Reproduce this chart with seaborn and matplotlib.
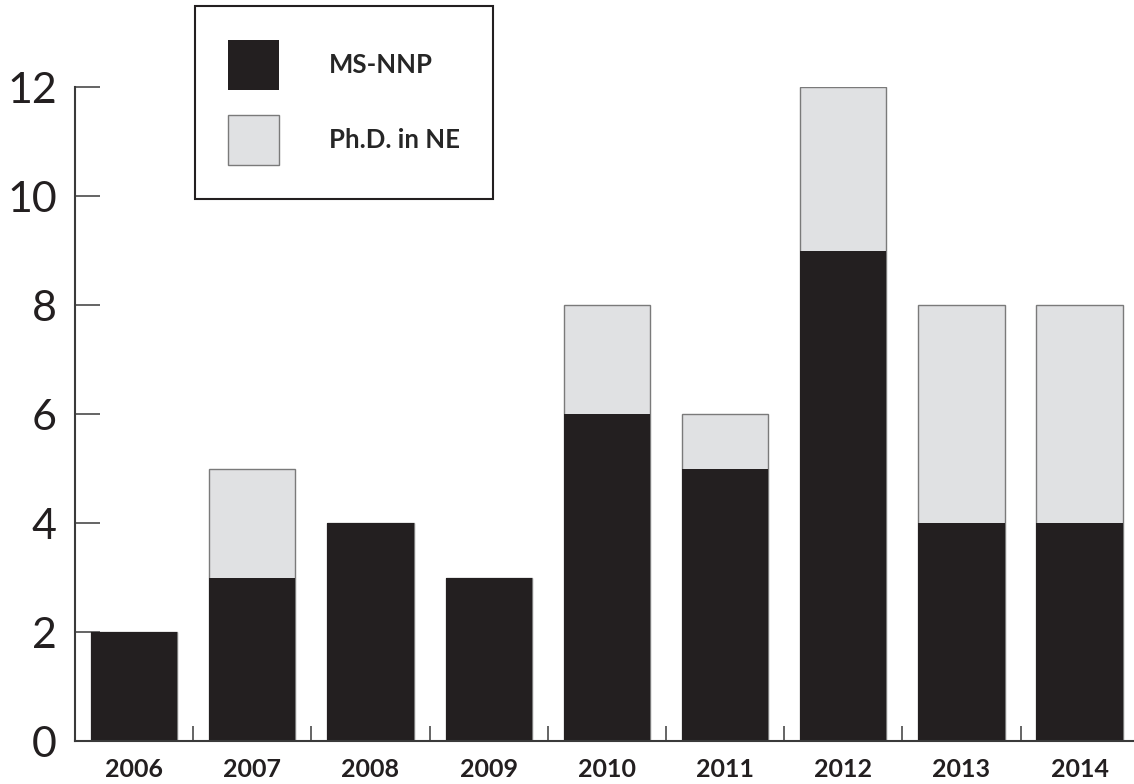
import numpy as np
import pandas as pd
import matplotlib.pyplot as plt
from matplotlib.ticker import FixedLocator
import seaborn as sns

# data
years = ['2006', '2007', '2008', '2009', '2010', '2011', '2012', '2013', '2014']
ms_nnp = [2, 3, 4, 3, 6, 5, 9, 4, 4]
phd_ne = [0, 2, 0, 0, 2, 1, 3, 4, 4]
y_ticks = [0, 2, 4, 6, 8, 10, 12]

df = pd.DataFrame({'year': years, 'MS-NNP': ms_nnp, 'Ph.D. in NE': phd_ne})
df['total'] = df['MS-NNP'] + df['Ph.D. in NE']

sns.set_style('ticks')
plt.rcParams['font.family'] = ['Lato', 'DejaVu Sans']

dark = '#231f20'
light = '#e0e1e3'

fig = plt.figure(figsize=(11.34, 7.84), dpi=100)
ax = fig.add_axes([0.0661, 0.0548, 0.9339, 0.8342])

# stacked bars: total in light grey, MS-NNP drawn over it in black
sns.barplot(data=df, x='year', y='total', color=light, edgecolor='#7a7a7a',
            linewidth=1.0, width=0.73, saturation=1, ax=ax, label='Ph.D. in NE')
sns.barplot(data=df, x='year', y='MS-NNP', color=dark, edgecolor=dark,
            linewidth=0, width=0.73, saturation=1, ax=ax, label='MS-NNP')

handles, labels = ax.get_legend_handles_labels()
if ax.get_legend() is not None:
    ax.get_legend().remove()

ax.set_xlim(-0.5, 8.46)
ax.set_ylim(0, 12)
ax.set_yticks(y_ticks)
ax.set_xlabel('')
ax.set_ylabel('')

for s in ['top', 'right']:
    ax.spines[s].set_visible(False)
for s in ['left', 'bottom']:
    ax.spines[s].set_color('#3a3a3a')
    ax.spines[s].set_linewidth(1.5)

ax.tick_params(axis='y', direction='in', length=18, width=1.1, color='#3a3a3a',
               labelsize=31, pad=13, labelcolor='#231f20')
ax.tick_params(axis='x', which='major', length=0, labelsize=18, pad=12,
               labelcolor='#231f20')
for lab in ax.get_xticklabels():
    lab.set_fontweight('bold')
ax.xaxis.set_minor_locator(FixedLocator(np.arange(0.5, 8, 1)))
ax.tick_params(axis='x', which='minor', direction='in', length=11, width=1.1,
               color='#3a3a3a')

order = [labels.index('MS-NNP'), labels.index('Ph.D. in NE')]
leg = fig.legend([handles[i] for i in order], [labels[i] for i in order],
                 loc='upper left', bbox_to_anchor=(0.172, 0.992),
                 bbox_transform=fig.transFigure, borderaxespad=0,
                 prop={'size': 18.5, 'weight': 'bold'}, handlelength=1.95,
                 handleheight=2.65, handletextpad=1.95, labelspacing=0.95,
                 borderpad=1.3, fancybox=False, frameon=True)
leg.get_frame().set_edgecolor('#231f20')
leg.get_frame().set_linewidth(1.5)
leg.get_frame().set_alpha(1)

fig.savefig('out.png', dpi=100)
